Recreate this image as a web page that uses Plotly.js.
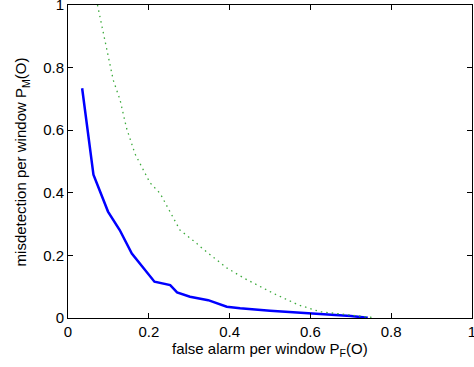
<!DOCTYPE html>
<html>
<head>
<meta charset="utf-8">
<script src="https://cdn.plot.ly/plotly-3.0.1.min.js"></script>
<style>html,body{margin:0;padding:0;background:#fff;}#plot{width:474px;height:367px;}</style>
</head>
<body>
<div id="plot"></div>
<script>
// Blue solid curve
const blueX = [0.035, 0.063, 0.099, 0.128, 0.158, 0.214, 0.253, 0.270, 0.302, 0.347, 0.393, 0.426, 0.500, 0.600, 0.700, 0.742];
const blueY = [0.734, 0.458, 0.340, 0.281, 0.206, 0.116, 0.105, 0.082, 0.068, 0.057, 0.036, 0.031, 0.023, 0.015, 0.006, 0.001];
// Green dotted curve
const greenX = [0.073, 0.087, 0.104, 0.112, 0.129, 0.145, 0.166, 0.178, 0.203, 0.228, 0.252, 0.265, 0.277, 0.319, 0.327, 0.393, 0.436, 0.508, 0.570, 0.624, 0.690, 0.752];
const greenY = [1.000, 0.910, 0.803, 0.760, 0.696, 0.606, 0.524, 0.494, 0.432, 0.398, 0.340, 0.313, 0.281, 0.238, 0.228, 0.160, 0.127, 0.079, 0.042, 0.020, 0.010, 0.002];
const tickVals = [0, 0.2, 0.4, 0.6, 0.8, 1];
const tickText = ['0', '0.2', '0.4', '0.6', '0.8', '1'];
const xTitle = 'false alarm per window P<sub>F</sub>(O)';
const yTitle = 'misdetection per window P<sub>M</sub>(O)';

const font = {family: 'Liberation Sans, Arial, sans-serif', size: 15, color: '#000'};
const axisCommon = {
  range: [0, 1], tickvals: tickVals, ticktext: tickText,
  ticks: 'inside', ticklen: 5, tickwidth: 1, tickcolor: '#000',
  showline: true, linecolor: '#000', linewidth: 1, mirror: 'ticks',
  showgrid: false, zeroline: false, tickfont: font, fixedrange: true,
  ticklabeloverflow: 'allow'
};
const data = [
  {x: blueX, y: blueY, type: 'scatter', mode: 'lines', line: {color: 'rgb(0,0,255)', width: 2.5}, hoverinfo: 'none'},
  {x: greenX, y: greenY, type: 'scatter', mode: 'lines', line: {color: 'rgb(60,170,60)', width: 1.3, dash: '1.5px,4px'}, hoverinfo: 'none'}
];
const layout = {
  width: 474, height: 367,
  margin: {l: 68, r: 2, t: 5, b: 49},
  paper_bgcolor: '#fff', plot_bgcolor: '#fff',
  showlegend: false, font: font,
  xaxis: Object.assign({}, axisCommon),
  yaxis: Object.assign({}, axisCommon),
  annotations: [{
    text: xTitle, xref: 'paper', yref: 'paper', x: 0.5, y: -0.1,
    xanchor: 'center', yanchor: 'middle', showarrow: false, font: font
  }, {
    text: yTitle, xref: 'paper', yref: 'paper', x: -0.114, y: 0.5,
    xanchor: 'center', yanchor: 'middle', textangle: -90, showarrow: false, font: font
  }]
};
Plotly.newPlot('plot', data, layout, {staticPlot: true});
</script>
</body>
</html>
